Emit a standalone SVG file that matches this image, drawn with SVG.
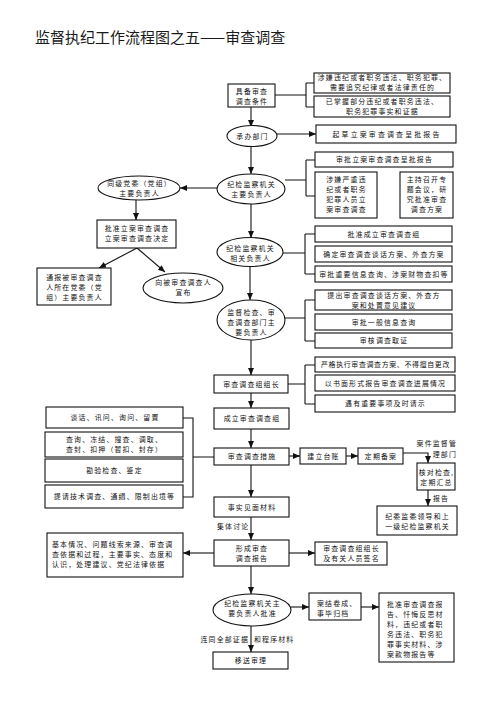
<svg xmlns="http://www.w3.org/2000/svg" width="503" height="726" viewBox="0 0 503 726">
<style>
text{font-family:"Noto Sans CJK SC","Liberation Sans",sans-serif;fill:#111;font-size:6.9px;letter-spacing:1.2px;text-anchor:middle}
.l{text-anchor:start}
.r{text-anchor:end}
.b{fill:#fff;stroke:#111;stroke-width:1.1}
.c{fill:none;stroke:#111;stroke-width:1.1}
.t{font-size:15px;letter-spacing:0;text-anchor:start;fill:#1a1a1a}
</style>
<defs>
<marker id="ah" markerUnits="userSpaceOnUse" markerWidth="8" markerHeight="7" refX="7" refY="3" orient="auto">
<path d="M0,0 L7,3 L0,6 z" fill="#111"/>
</marker>
</defs>
<rect width="503" height="726" fill="#fff"/>
<text class="t" x="35" y="43">监督执纪工作流程图之五——审查调查</text>

<g id="connectors">
<path class="c" d="M275,95 H306 M306,83 V107 M306,83 H314 M306,107 H314"/>
<path class="c" d="M251,107 V127" marker-end="url(#ah)"/>
<path class="c" d="M277,134 H316" marker-end="url(#ah)"/>
<path class="c" d="M251,147 V174" marker-end="url(#ah)"/>
<path class="c" d="M285,180 H306 M306,160 V196 M306,160 H315 M306,196 H315"/>
<path class="c" d="M217,188 H180" marker-end="url(#ah)"/>
<path class="c" d="M136,200 V220" marker-end="url(#ah)"/>
<path class="c" d="M137,248 L99,268" marker-end="url(#ah)"/>
<path class="c" d="M137,248 L165,272" marker-end="url(#ah)"/>
<path class="c" d="M251,204 V238" marker-end="url(#ah)"/>
<path class="c" d="M283,253 H305 M305,234 V274 M305,234 H315 M305,274 H315"/>
<path class="c" d="M250,267 V300" marker-end="url(#ah)"/>
<path class="c" d="M285,318 H305 M305,300 V341 M305,300 H315 M305,341 H315"/>
<path class="c" d="M251,340 V375" marker-end="url(#ah)"/>
<path class="c" d="M288,384 H305 M305,365 V404 M305,365 H315 M305,404 H315"/>
<path class="c" d="M251,393 V408" marker-end="url(#ah)"/>
<path class="c" d="M251,429 V448" marker-end="url(#ah)"/>
<path class="c" d="M183,418 H193 V497 H183 M193,457 H214"/>
<path class="c" d="M289,456 H300" marker-end="url(#ah)"/>
<path class="c" d="M346,456 H358" marker-end="url(#ah)"/>
<path class="c" d="M403,453 H428 V463" marker-end="url(#ah)"/>
<path class="c" d="M428,490 V506" marker-end="url(#ah)"/>
<path class="c" d="M251,465 V497" marker-end="url(#ah)"/>
<path class="c" d="M251,517 V540" marker-end="url(#ah)"/>
<path class="c" d="M214,553 H183" marker-end="url(#ah)"/>
<path class="c" d="M289,553 H315" marker-end="url(#ah)"/>
<path class="c" d="M251,566 V594" marker-end="url(#ah)"/>
<path class="c" d="M291,607 H309" marker-end="url(#ah)"/>
<path class="c" d="M361,607 H379" marker-end="url(#ah)"/>
<path class="c" d="M251,626 V652" marker-end="url(#ah)"/>
<text class="r" x="457" y="446">案件监督管</text>
<text class="r" x="457" y="457">理部门</text>
<text class="l" x="433" y="501">报告</text>
<text class="l" x="217" y="529">集体讨论</text>
<text class="r" x="249" y="642">连同全部证据</text>
<text class="l" x="254" y="642">和程序材料</text>
</g>

<g id="n_conditions">
<rect class="b" x="228" y="84" width="47" height="23"/>
<text x="252" y="93.5">具备审查</text>
<text x="252" y="103.5">调查条件</text>
</g>
<g id="n_cond1">
<rect class="b" x="314" y="73" width="136" height="20"/>
<text x="382.5" y="80">涉嫌违纪或者职务违法、职务犯罪、</text>
<text x="382.5" y="90">需要追究纪律或者法律责任的</text>
</g>
<g id="n_cond2">
<rect class="b" x="314" y="96" width="136" height="21"/>
<text x="382.5" y="104">已掌握部分违纪或者职务违法、</text>
<text x="382.5" y="114">职务犯罪事实和证据</text>
</g>
<g id="n_dept">
<ellipse class="b" cx="252" cy="136" rx="25" ry="10.5"/>
<text x="252.5" y="138.5">承办部门</text>
</g>
<g id="n_draft">
<rect class="b" x="316" y="125" width="140" height="18"/>
<text x="387" y="136.5" style="letter-spacing:2.2px">起草立案审查调查呈批报告</text>
</g>
<g id="n_chief">
<ellipse class="b" cx="251" cy="189" rx="34" ry="15"/>
<text x="251.5" y="186.5">纪检监察机关</text>
<text x="251.5" y="196.5">主要负责人</text>
</g>
<g id="n_approve_report">
<rect class="b" x="315" y="152" width="138" height="15"/>
<text x="384.5" y="162">审批立案审查调查呈批报告</text>
</g>
<g id="n_serious">
<rect class="b" x="315" y="172" width="62" height="46"/>
<text x="346.5" y="181.5">涉嫌严重违</text>
<text x="346.5" y="191.5">纪或者职务</text>
<text x="346.5" y="201.5">犯罪人员立</text>
<text x="346.5" y="211.5">案审查调查</text>
</g>
<g id="n_meeting">
<rect class="b" x="400" y="172" width="53" height="46"/>
<text x="427" y="181.5">主持召开专</text>
<text x="427" y="191.5">题会议，研</text>
<text x="427" y="201.5">究批准审查</text>
<text x="427" y="211.5">调查方案</text>
</g>
<g id="n_party">
<ellipse class="b" cx="139" cy="188" rx="41" ry="12"/>
<text x="139.5" y="186">同级党委（党组）</text>
<text x="139.5" y="196">主要负责人</text>
</g>
<g id="n_decision">
<rect class="b" x="97" y="220" width="79" height="28"/>
<text x="137" y="231">批准立案审查调查</text>
<text x="137" y="241">立案审查调查决定</text>
</g>
<g id="n_notify">
<rect class="b" x="37" y="268" width="74" height="37"/>
<text x="74.5" y="279.5">通报被审查调查</text>
<text x="74.5" y="289.5">人所在党委（党</text>
<text x="74.5" y="300">组）主要负责人</text>
</g>
<g id="n_announce">
<ellipse class="b" cx="183" cy="288" rx="40" ry="15"/>
<text x="183.5" y="284.5">向被审查调查人</text>
<text x="183.5" y="294.5">宣布</text>
</g>
<g id="n_related">
<ellipse class="b" cx="250" cy="252" rx="33" ry="14.5"/>
<text x="250.5" y="250.5">纪检监察机关</text>
<text x="250.5" y="260.5">相关负责人</text>
</g>
<g id="n_r1"><rect class="b" x="315" y="226" width="137" height="16"/><text x="384" y="236.5">批准成立审查调查组</text></g>
<g id="n_r2"><rect class="b" x="315" y="246" width="137" height="16"/><text x="384" y="256.5">确定审查调查谈话方案、外查方案</text></g>
<g id="n_r3"><rect class="b" x="315" y="266" width="137" height="16"/><text x="384" y="276.5">审批重要信息查询、涉案财物查扣等</text></g>
<g id="n_supervise">
<ellipse class="b" cx="251" cy="320" rx="34" ry="20"/>
<text x="251.5" y="314.5">监督检查、审</text>
<text x="251.5" y="324.5">查调查部门主</text>
<text x="251.5" y="334.5">要负责人</text>
</g>
<g id="n_s1"><rect class="b" x="315" y="290" width="137" height="20"/><text x="384" y="298">提出审查调查谈话方案、外查方</text><text x="384" y="308">案和处置意见建议</text></g>
<g id="n_s2"><rect class="b" x="315" y="314" width="137" height="16"/><text x="384" y="324.5">审批一般信息查询</text></g>
<g id="n_s3"><rect class="b" x="315" y="333" width="137" height="15"/><text x="384" y="343">审核调查取证</text></g>
<g id="n_leader">
<rect class="b" x="214" y="375" width="74" height="18"/>
<text x="251.5" y="386.5">审查调查组组长</text>
</g>
<g id="n_l1"><rect class="b" x="315" y="357" width="140" height="15"/><text x="385.5" y="367" style="letter-spacing:0.7px">严格执行审查调查方案、不得擅自更改</text></g>
<g id="n_l2"><rect class="b" x="315" y="375" width="140" height="16"/><text x="385.5" y="385.5">以书面形式报告审查调查进展情况</text></g>
<g id="n_l3"><rect class="b" x="315" y="395" width="140" height="17"/><text x="385.5" y="406">遇有重要事项及时请示</text></g>
<g id="n_group">
<rect class="b" x="214" y="408" width="75" height="21"/>
<text x="252" y="421">成立审查调查组</text>
</g>
<g id="n_measures">
<rect class="b" x="214" y="448" width="75" height="17"/>
<text x="252" y="459">审查调查措施</text>
</g>
<g id="n_ledger">
<rect class="b" x="300" y="448" width="46" height="16"/>
<text x="323.5" y="458.5">建立台账</text>
</g>
<g id="n_file">
<rect class="b" x="358" y="448" width="45" height="16"/>
<text x="381" y="458.5">定期备案</text>
</g>
<g id="n_check">
<rect class="b" x="417" y="463" width="38" height="27"/>
<text x="436.5" y="474.5">核对检查,</text>
<text x="436.5" y="484.5">定期汇总</text>
</g>
<g id="n_report_up">
<rect class="b" x="377" y="506" width="80" height="29"/>
<text x="417.5" y="518.5">纪委监委领导和上</text>
<text x="417.5" y="528.5">一级纪检监察机关</text>
</g>
<g id="n_m1"><rect class="b" x="46" y="407" width="137" height="21"/><text x="115" y="420">谈话、讯问、询问、留置</text></g>
<g id="n_m2"><rect class="b" x="45" y="432" width="138" height="25"/><text x="114.5" y="441.5">查询、冻结、搜查、调取、</text><text x="114.5" y="451.5">查封、扣押（暂扣、封存）</text></g>
<g id="n_m3"><rect class="b" x="45" y="459" width="138" height="23"/><text x="114.5" y="473">勘验检查、鉴定</text></g>
<g id="n_m4"><rect class="b" x="45" y="485" width="138" height="23"/><text x="114.5" y="499">提请技术调查、通缉、限制出境等</text></g>
<g id="n_facts">
<rect class="b" x="214" y="497" width="75" height="20"/>
<text x="252" y="509.5">事实见面材料</text>
</g>
<g id="n_form">
<rect class="b" x="214" y="540" width="75" height="26"/>
<text x="252" y="550.5">形成审查</text>
<text x="252" y="560.5">调查报告</text>
</g>
<g id="n_contents">
<rect class="b" x="47" y="533" width="136" height="44"/>
<text class="l" x="52" y="547">基本情况、问题线索来源、审查调</text>
<text class="l" x="52" y="557">查依据和过程，主要事实、态度和</text>
<text class="l" x="52" y="567">认识，处理建议、党纪法律依据</text>
</g>
<g id="n_sign">
<rect class="b" x="315" y="542" width="72" height="23"/>
<text x="351.5" y="550.5">审查调查组组长</text>
<text x="351.5" y="560.5">及有关人员签名</text>
</g>
<g id="n_approve">
<ellipse class="b" cx="252" cy="610" rx="39" ry="16"/>
<text x="252.5" y="605.5">纪检监察机关主</text>
<text x="252.5" y="615.5">要负责人批准</text>
</g>
<g id="n_archive">
<rect class="b" x="309" y="593" width="52" height="27"/>
<text class="l" x="317" y="605.5">案结卷成、</text>
<text class="l" x="317" y="615.5">事毕归档</text>
</g>
<g id="n_materials">
<rect class="b" x="379" y="593" width="75" height="69"/>
<text class="l" x="387" y="606.5">批准审查调查报</text>
<text class="l" x="387" y="616.5">告、忏悔反思材</text>
<text class="l" x="387" y="626.5">料，违纪或者职</text>
<text class="l" x="387" y="636.5">务违法、职务犯</text>
<text class="l" x="387" y="646.5">罪事实材料、涉</text>
<text class="l" x="387" y="656.5">案款物报告等</text>
</g>
<g id="n_transfer">
<rect class="b" x="213" y="652" width="75" height="17"/>
<text x="251" y="663">移送审理</text>
</g>
</svg>
